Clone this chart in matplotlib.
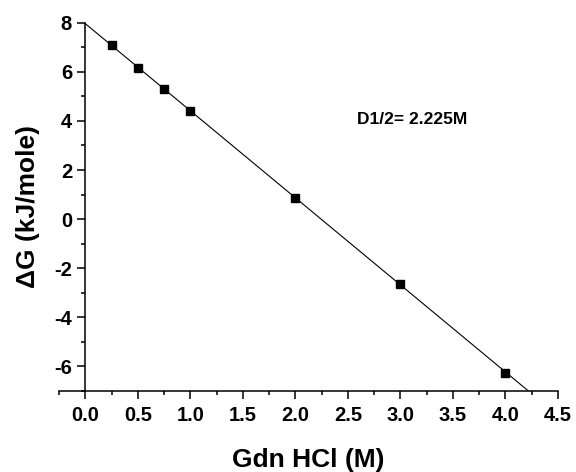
import matplotlib
matplotlib.use('Agg')
import matplotlib.pyplot as plt
from matplotlib.ticker import MultipleLocator
import numpy as np

# data
gdn = [0.25, 0.5, 0.75, 1.0, 2.0, 3.0, 4.0]
dG = [7.11, 6.16, 5.28, 4.41, 0.88, -2.63, -6.26]

plt.rcParams['font.family'] = ['Liberation Sans', 'DejaVu Sans']
plt.rcParams['font.weight'] = 'bold'
plt.rcParams['axes.unicode_minus'] = False

fig = plt.figure(figsize=(5.76, 4.72), dpi=100)
ax = fig.add_axes([0.1024, 0.1716, 0.8664, 0.7803])

# linear fit
slope, icpt = np.polyfit(gdn, dG, 1)
xf = np.array([0.0, 4.5])
ax.plot(xf, icpt + slope * xf, color='black', lw=0.8)
ax.plot(gdn, dG, 's', color='black', ms=5.5)

ax.set_xlim(-0.25, 4.5)
ax.set_ylim(-7, 8)

ax.spines['top'].set_visible(False)
ax.spines['right'].set_visible(False)
ax.spines['left'].set_position(('data', 0))
ax.spines['left'].set_linewidth(1.1)
ax.spines['bottom'].set_linewidth(1.1)

ax.xaxis.set_minor_locator(MultipleLocator(0.25))
ax.yaxis.set_minor_locator(MultipleLocator(1))
ax.set_xticks(np.arange(0, 4.51, 0.5))
ax.set_xticklabels(['%.1f' % v for v in np.arange(0, 4.51, 0.5)])
ax.set_yticks(range(-6, 9, 2))

ax.tick_params(which='major', direction='out', length=5.5, width=1.1, labelsize=14.5, pad=5)
ax.tick_params(which='minor', direction='out', length=3, width=1.1)
ax.tick_params(axis='y', pad=4)
for lab in ax.get_xticklabels() + ax.get_yticklabels():
    lab.set_fontweight('bold')

ax.set_xlabel('Gdn HCl (M)', fontsize=19, fontweight='bold', labelpad=17)
ax.set_ylabel('ΔG (kJ/mole)', fontsize=19, fontweight='bold')
ax.yaxis.set_label_coords(-0.038, 0.5)

ax.text(2.59, 4.07, 'D1/2= 2.225M', fontsize=12.5, fontweight='bold', va='center', ha='left')

fig.savefig('out.png', dpi=100)
